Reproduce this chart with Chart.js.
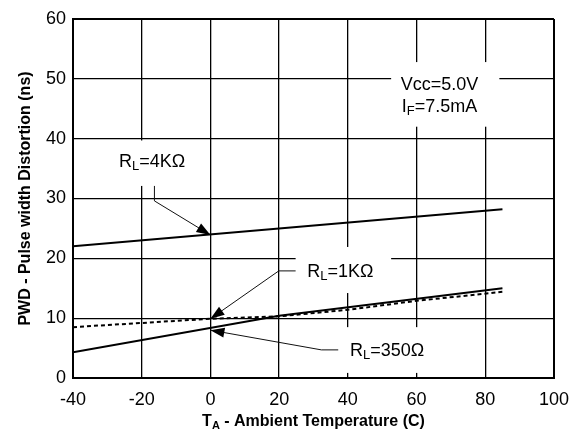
<!DOCTYPE html>
<html>
<head>
<meta charset="utf-8">
<script src="https://cdn.jsdelivr.net/npm/chart.js@4/dist/chart.umd.min.js"></script>
<style>
  html, body { margin: 0; padding: 0; background: #fff; }
  #wrap { width: 580px; height: 429px; }
</style>
</head>
<body>
<div id="wrap"><canvas id="pwd" width="580" height="429"></canvas></div>
<script>
// values (x = ambient temp in C, y = PWD in ns)
const rl4kTemp = [-40, 85];
const rl4kPwd = [22.0, 28.2];

const rl1kTemp = [-40, 0, 20, 40, 60, 85];
const rl1kPwd = [8.5, 9.9, 10.3, 11.4, 12.9, 14.4];

const rl350Temp = [-40, 20, 85];
const rl350Pwd = [4.3, 10.4, 15.0];

const xTicks = [-40, -20, 0, 20, 40, 60, 80, 100];
const yTicks = [0, 10, 20, 30, 40, 50, 60];

const FONT = "'Liberation Sans', Arial, sans-serif";

function toPoints(xs, ys) {
    return xs.map((x, i) => ({ x: x, y: ys[i] }));
}

// text given as [text, isSubscript] pieces
function richWidth(ctx, parts, size, weight) {
    let w = 0;
    parts.forEach(([t, sub]) => {
        ctx.font = weight + " " + (sub ? Math.round(size * 0.7) : size) + "px " + FONT;
        w += ctx.measureText(t).width;
    });
    return w;
}

function drawRich(ctx, parts, x, y, size, weight) {
    let cx = x - richWidth(ctx, parts, size, weight) / 2;
    ctx.textBaseline = "alphabetic";
    ctx.textAlign = "left";
    parts.forEach(([t, sub]) => {
        ctx.font = weight + " " + (sub ? Math.round(size * 0.7) : size) + "px " + FONT;
        ctx.fillText(t, cx, sub ? y + size * 0.2 : y);
        cx += ctx.measureText(t).width;
    });
}

function drawArrow(ctx, pts) {
    ctx.save();
    ctx.strokeStyle = "#111";
    ctx.fillStyle = "#000";
    ctx.lineWidth = 1;
    ctx.beginPath();
    ctx.moveTo(pts[0][0], pts[0][1]);
    for (let i = 1; i < pts.length; i++) ctx.lineTo(pts[i][0], pts[i][1]);
    ctx.stroke();
    const [tx, ty] = pts[pts.length - 1];
    const [px, py] = pts[pts.length - 2];
    const a = Math.atan2(ty - py, tx - px);
    const len = 14, half = 5;
    ctx.beginPath();
    ctx.moveTo(tx, ty);
    ctx.lineTo(tx - len * Math.cos(a) + half * Math.sin(a), ty - len * Math.sin(a) - half * Math.cos(a));
    ctx.lineTo(tx - len * Math.cos(a) - half * Math.sin(a), ty - len * Math.sin(a) + half * Math.cos(a));
    ctx.closePath();
    ctx.fill();
    ctx.restore();
}

// annotation placement in data units
const notes = [
    {
        box: [52.6, 84.1, 42.0, 52.8],
        lines: [
            { parts: [["Vcc=5.0V", false]], at: [66.7, 48.1] },
            { parts: [["I", false], ["F", true], ["=7.5mA", false]], at: [66.7, 44.5] }
        ]
    },
    {
        box: [-32, -2, 32.1, 39.7],
        lines: [{ parts: [["R", false], ["L", true], ["=4K\u03A9", false]], at: [-16.95, 35.3] }],
        arrow: [[-16.3, 32.1], [-16.3, 29.6], [0, 23.9]]
    },
    {
        box: [24.8, 52.6, 14.2, 21.9],
        lines: [{ parts: [["R", false], ["L", true], ["=1K\u03A9", false]], at: [37.8, 16.9] }],
        arrow: [[24.8, 17.9], [19.9, 17.9], [0, 9.9]]
    },
    {
        box: [37.8, 64.7, 0.85, 8.5],
        lines: [{ parts: [["R", false], ["L", true], ["=350\u03A9", false]], at: [51.4, 3.7] }],
        arrow: [[37.2, 4.7], [32.3, 4.7], [0, 8.0]]
    }
];

const annotationPlugin = {
    id: "notes",
    beforeDatasetsDraw(chart) {
        const { ctx, scales: { x, y } } = chart;
        ctx.save();
        ctx.fillStyle = "#fff";
        notes.forEach(n => {
            const [x0, x1, y0, y1] = n.box;
            const l = x.getPixelForValue(x0), r = x.getPixelForValue(x1);
            const t = y.getPixelForValue(y1), b = y.getPixelForValue(y0);
            ctx.fillRect(l, t, r - l, b - t);
        });
        ctx.restore();
    },
    afterDatasetsDraw(chart) {
        const { ctx, scales: { x, y } } = chart;
        ctx.save();
        ctx.fillStyle = "#000";
        notes.forEach(n => {
            n.lines.forEach(ln => {
                drawRich(ctx, ln.parts, x.getPixelForValue(ln.at[0]), y.getPixelForValue(ln.at[1]), 18, "normal");
            });
            if (n.arrow) {
                drawArrow(ctx, n.arrow.map(p => [x.getPixelForValue(p[0]), y.getPixelForValue(p[1])]));
            }
        });
        ctx.restore();
    },
    afterDraw(chart) {
        const { ctx, chartArea } = chart;
        ctx.save();
        ctx.fillStyle = "#000";
        // x axis title with subscript
        drawRich(ctx, [["T", false], ["A", true], [" - Ambient Temperature (C)", false]],
            (chartArea.left + chartArea.right) / 2, 426, 16, "bold");
        // y axis title
        ctx.translate(24, (chartArea.top + chartArea.bottom) / 2);
        ctx.rotate(-Math.PI / 2);
        drawRich(ctx, [["PWD - Pulse width Distortion (ns)", false]], 0, 6, 16, "bold");
        ctx.restore();
    }
};

// outer frame lines are heavier than inner grid lines
const gridWidth = n => c => (c.index === 0 || c.index === n - 1) ? 2 : 1.3;

new Chart(document.getElementById("pwd"), {
    type: "line",
    data: {
        datasets: [
            {
                label: "RL=4K",
                data: toPoints(rl4kTemp, rl4kPwd),
                borderColor: "#000",
                borderWidth: 2,
                pointRadius: 0,
                tension: 0
            },
            {
                label: "RL=1K",
                data: toPoints(rl1kTemp, rl1kPwd),
                borderColor: "#000",
                borderWidth: 2,
                borderDash: [4, 3],
                pointRadius: 0,
                tension: 0
            },
            {
                label: "RL=350",
                data: toPoints(rl350Temp, rl350Pwd),
                borderColor: "#000",
                borderWidth: 2,
                pointRadius: 0,
                tension: 0
            }
        ]
    },
    options: {
        responsive: false,
        animation: false,
        devicePixelRatio: 1,
        layout: { padding: { top: 19, right: 23, left: 0, bottom: 0 } },
        plugins: {
            legend: { display: false },
            tooltip: { enabled: false }
        },
        scales: {
            x: {
                type: "linear",
                min: xTicks[0],
                max: xTicks[xTicks.length - 1],
                afterBuildTicks: s => { s.ticks = xTicks.map(v => ({ value: v })); },
                afterFit: s => { s.height = 51; },
                ticks: { color: "#000", font: { family: FONT, size: 18 }, padding: 11, maxRotation: 0 },
                grid: { color: "#000", lineWidth: gridWidth(xTicks.length), drawTicks: false },
                border: { color: "#000", width: 2 }
            },
            y: {
                type: "linear",
                min: yTicks[0],
                max: yTicks[yTicks.length - 1],
                afterBuildTicks: s => { s.ticks = yTicks.map(v => ({ value: v })); },
                afterFit: s => { s.width = 73; },
                ticks: { color: "#000", font: { family: FONT, size: 18 }, padding: 7 },
                grid: { color: "#000", lineWidth: gridWidth(yTicks.length), drawTicks: false },
                border: { color: "#000", width: 2 }
            }
        }
    },
    plugins: [annotationPlugin]
});
</script>
</body>
</html>
